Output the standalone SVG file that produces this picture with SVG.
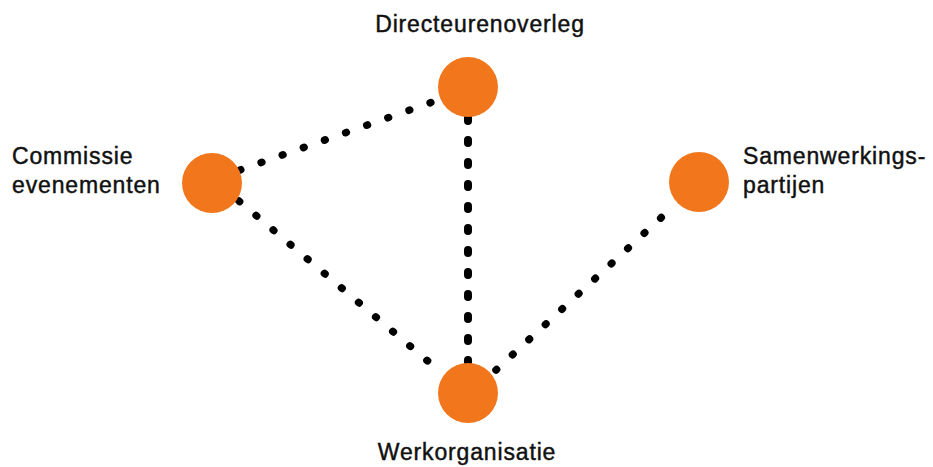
<svg xmlns="http://www.w3.org/2000/svg" width="933" height="467" viewBox="0 0 933 467">
  <style>
    .node { fill: #f2761c; }
    .label { font-family: "Liberation Sans", Arial, sans-serif; font-size: 23px; fill: #111; stroke: #111; stroke-width: 0.45; letter-spacing: 0.85px; }
    .link { stroke: #000; fill: none; stroke-linecap: round; }
    .thin { stroke-width: 7.5; stroke-dasharray: 0.8 21.6; }
    .thick { stroke-width: 8; stroke-dasharray: 3 19; }
  </style>
  <rect width="933" height="467" fill="#fff"/>
  <g id="connectors">
    <line class="link thin" x1="240" y1="170" x2="441" y2="99"/>
    <line class="link thin" x1="239" y1="201" x2="443" y2="374"/>
    <line class="link thick" x1="468" y1="118" x2="468" y2="362"/>
    <line class="link thin" x1="496" y1="370" x2="676" y2="204"/>
  </g>
  <g id="directeurenoverleg">
    <circle class="node" cx="468" cy="87" r="30"/>
    <text class="label" x="480" y="32" text-anchor="middle">Directeurenoverleg</text>
  </g>
  <g id="commissie-evenementen">
    <circle class="node" cx="212" cy="183" r="30"/>
    <text class="label" x="12" y="164">Commissie</text>
    <text class="label" x="12" y="193">evenementen</text>
  </g>
  <g id="samenwerkingspartijen">
    <circle class="node" cx="699" cy="182" r="30"/>
    <text class="label" x="743" y="164">Samenwerkings-</text>
    <text class="label" x="743" y="193">partijen</text>
  </g>
  <g id="werkorganisatie">
    <circle class="node" cx="468" cy="393" r="30"/>
    <text class="label" x="467" y="460" text-anchor="middle">Werkorganisatie</text>
  </g>
</svg>
